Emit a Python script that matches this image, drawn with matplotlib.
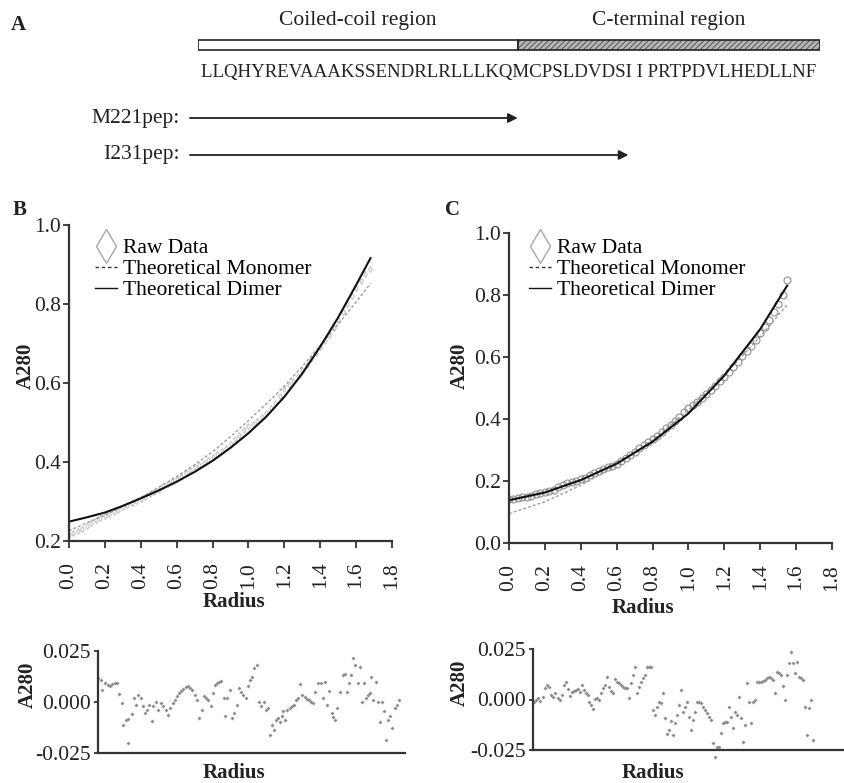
import numpy as np
import matplotlib
matplotlib.use('Agg')
import matplotlib.pyplot as plt
from matplotlib.lines import Line2D
from matplotlib.patches import Rectangle

plt.rcParams['font.family'] = ['Liberation Serif', 'DejaVu Serif']
plt.rcParams['hatch.linewidth'] = 0.7

W, H = 844, 783
INK = '#222222'

# ---------------- panel A: peptide map (residue positions) ----------------
sequence = 'LLQHYREVAAAKSSENDRLRLLLKQMCPSLDVDSI I PRTPDVLHEDLLNF'
region_names = ['Coiled-coil region', 'C-terminal region']
region_bounds = [0, 25.7, 50]
peptide_names = ['M221pep:', 'I231pep:']
peptide_ends = [25.7, 34.6]

# ---------------- panel B: sedimentation, M221pep ----------------
fit_r_b = [0.0, 0.1, 0.2, 0.3, 0.4, 0.5, 0.6, 0.7, 0.8, 0.9, 1.0, 1.1, 1.2, 1.3, 1.4, 1.5, 1.6, 1.68]
dimer_b = [0.249, 0.260, 0.272, 0.289, 0.308, 0.328, 0.350, 0.375, 0.403, 0.436, 0.473, 0.515,
           0.565, 0.624, 0.692, 0.766, 0.848, 0.916]
monomer_b = [0.226, 0.246, 0.266, 0.287, 0.310, 0.336, 0.363, 0.393, 0.426, 0.464, 0.505, 0.547,
             0.592, 0.642, 0.695, 0.749, 0.805, 0.852]

raw_r_b = [0.000, 0.025, 0.050, 0.075, 0.100, 0.125, 0.150, 0.175, 0.200, 0.225, 0.250, 0.275,
           0.300, 0.325, 0.350, 0.375, 0.400, 0.425, 0.450, 0.475, 0.500, 0.525, 0.550, 0.575,
           0.600, 0.625, 0.650, 0.675, 0.700, 0.725, 0.750, 0.775, 0.800, 0.825, 0.850, 0.875,
           0.900, 0.925, 0.950, 0.975, 1.000, 1.025, 1.050, 1.075, 1.100, 1.125, 1.150, 1.175,
           1.200, 1.225, 1.250, 1.275, 1.300, 1.325, 1.350, 1.375, 1.400, 1.425, 1.450, 1.475,
           1.500, 1.525, 1.550, 1.575, 1.600, 1.625, 1.650, 1.675]
raw_b = [0.215, 0.220, 0.226, 0.231, 0.238, 0.246, 0.252, 0.258, 0.263, 0.268, 0.274, 0.279,
         0.285, 0.291, 0.297, 0.302, 0.307, 0.312, 0.318, 0.323, 0.330, 0.338, 0.345, 0.351,
         0.358, 0.365, 0.372, 0.381, 0.388, 0.392, 0.398, 0.406, 0.413, 0.420, 0.428, 0.436,
         0.445, 0.457, 0.468, 0.480, 0.490, 0.497, 0.505, 0.514, 0.525, 0.537, 0.550, 0.567,
         0.585, 0.594, 0.605, 0.618, 0.632, 0.646, 0.660, 0.675, 0.690, 0.706, 0.722, 0.740,
         0.760, 0.780, 0.800, 0.820, 0.840, 0.858, 0.875, 0.888]

res_r_b = [0.000, 0.017, 0.024, 0.039, 0.053, 0.066, 0.079, 0.094, 0.105, 0.116,
           0.131, 0.140, 0.153, 0.168, 0.164, 0.186, 0.201, 0.212, 0.223, 0.236,
           0.247, 0.260, 0.269, 0.282, 0.297, 0.306, 0.319, 0.334, 0.349, 0.361,
           0.374, 0.389, 0.400, 0.413, 0.426, 0.437, 0.448, 0.459, 0.472, 0.485,
           0.496, 0.509, 0.522, 0.537, 0.548, 0.561, 0.574, 0.585, 0.599, 0.610,
           0.625, 0.636, 0.647, 0.658, 0.669, 0.680, 0.695, 0.706, 0.717, 0.730,
           0.743, 0.754, 0.767, 0.780, 0.791, 0.804, 0.817, 0.832, 0.843, 0.854,
           0.865, 0.880, 0.894, 0.905, 0.920, 0.931, 0.942, 0.953, 0.964, 0.975,
           0.987, 0.998, 1.009, 1.020, 1.027, 1.038, 1.049, 1.064, 1.075, 1.086,
           1.097, 1.108, 1.119, 1.130, 1.145, 1.156, 1.167, 1.178, 1.189, 1.204,
           1.219, 1.234, 1.245, 1.256, 1.267, 1.278, 1.293, 1.304, 1.315, 1.326,
           1.341, 1.355, 1.366, 1.377, 1.389, 1.403, 1.414, 1.425, 1.440, 1.451,
           1.462, 1.473, 1.484, 1.495, 1.507, 1.514, 1.525, 1.542, 1.551, 1.562,
           1.573, 1.584, 1.595, 1.606, 1.617, 1.628, 1.643, 1.654, 1.665]
# residuals in units of 0.001
res_b = [11.6, 10.8, 5.9, 9.5, 8.4, 7.6, 8.7, 9.2, 9.5, 4.0,
         -0.6, -11.2, -8.7, -8.3, -20.2, -5.8, 1.9, -1.4, 3.5, 1.9,
         -2.2, -5.5, -3.9, -1.4, -9.1, -2.2, 0.2, -3.9, -0.6, -2.2,
         -3.9, -6.3, -3.0, -0.6, 1.0, 2.7, 4.3, 5.4, 6.4, 7.2,
         7.6, 6.7, 5.9, 3.5, 1.0, -7.6, -3.9, 2.7, 1.9, 1.0,
         -2.2, 4.3, 8.4, 9.2, 10.0, 10.5, 1.9, -6.8, 1.9, 5.9,
         -7.9, -5.5, -1.4, 6.7, 5.1, 3.5, 1.9, 7.6, 10.8, 12.4,
         16.5, 18.2, 0.2, -2.2, 0.2, -3.9, -3.0, -16.1, -11.2, -13.6,
         -8.7, -7.9, -9.6, -7.1, -4.2, -8.7, -3.9, -3.0, -2.2, -1.4,
         1.0, 1.9, 8.7, 3.5, 2.3, 1.5, 1.0, 0.2, -0.6, 5.1,
         9.2, 9.2, 1.9, 10.0, -1.4, 5.6, -5.2, -7.4, -8.7, -3.0,
         5.1, 13.3, 13.6, 5.1, 9.2, 13.3, 21.4, 18.2, 9.2, 17.0,
         0.2, 9.2, 1.9, 3.5, 4.3, 12.4, 1.0, 10.0, 0.2, -9.6,
         0.2, -4.2, -18.5, -8.7, -7.1, -12.8, -3.0, -1.4, 1.0]

# ---------------- panel C: sedimentation, I231pep ----------------
fit_r_c = [0.0, 0.2, 0.4, 0.6, 0.8, 1.0, 1.2, 1.4, 1.55]
dimer_c = [0.138, 0.163, 0.203, 0.256, 0.327, 0.418, 0.540, 0.690, 0.830]
monomer_c = [0.095, 0.133, 0.186, 0.251, 0.332, 0.429, 0.542, 0.666, 0.768]

raw_r_c = [0.000, 0.025, 0.050, 0.075, 0.100, 0.125, 0.150, 0.175, 0.200, 0.225, 0.250, 0.275,
           0.300, 0.325, 0.350, 0.375, 0.400, 0.425, 0.450, 0.475, 0.500, 0.525, 0.550, 0.575,
           0.600, 0.625, 0.650, 0.675, 0.700, 0.725, 0.750, 0.775, 0.800, 0.825, 0.850, 0.875,
           0.900, 0.925, 0.950, 0.975, 1.000, 1.025, 1.050, 1.075, 1.100, 1.125, 1.150, 1.175,
           1.200, 1.225, 1.250, 1.275, 1.300, 1.325, 1.350, 1.375, 1.400, 1.425, 1.450, 1.475,
           1.500, 1.525, 1.550]
raw_c = [0.142, 0.143, 0.145, 0.148, 0.150, 0.153, 0.158, 0.162, 0.165, 0.168, 0.172, 0.180,
         0.188, 0.193, 0.196, 0.200, 0.205, 0.211, 0.218, 0.225, 0.232, 0.239, 0.245, 0.250,
         0.255, 0.264, 0.275, 0.285, 0.295, 0.305, 0.315, 0.325, 0.335, 0.346, 0.358, 0.370,
         0.382, 0.395, 0.408, 0.422, 0.435, 0.445, 0.455, 0.467, 0.480, 0.494, 0.508, 0.521,
         0.535, 0.551, 0.568, 0.585, 0.602, 0.618, 0.635, 0.656, 0.678, 0.698, 0.718, 0.745,
         0.772, 0.800, 0.848]

res_r_c = [0.006, 0.017, 0.029, 0.039, 0.053, 0.065, 0.076, 0.087, 0.101, 0.112,
           0.123, 0.138, 0.149, 0.160, 0.171, 0.182, 0.194, 0.205, 0.216, 0.227,
           0.238, 0.249, 0.260, 0.271, 0.282, 0.293, 0.304, 0.311, 0.323, 0.330,
           0.341, 0.352, 0.363, 0.374, 0.385, 0.396, 0.407, 0.418, 0.429, 0.440,
           0.452, 0.463, 0.474, 0.485, 0.496, 0.507, 0.518, 0.529, 0.540, 0.551,
           0.562, 0.573, 0.584, 0.595, 0.606, 0.617, 0.628, 0.640, 0.651, 0.665,
           0.676, 0.687, 0.698, 0.710, 0.721, 0.732, 0.743, 0.754, 0.765, 0.776,
           0.787, 0.798, 0.809, 0.820, 0.831, 0.842, 0.853, 0.864, 0.875, 0.886,
           0.898, 0.909, 0.920, 0.931, 0.942, 0.953, 0.964, 0.975, 0.986, 0.997,
           1.008, 1.016, 1.027, 1.038, 1.049, 1.060, 1.071, 1.082, 1.093, 1.104,
           1.115, 1.126, 1.137, 1.148, 1.159, 1.170, 1.181, 1.192, 1.203, 1.215,
           1.226, 1.237, 1.248, 1.259, 1.270, 1.281, 1.292, 1.303, 1.314, 1.325,
           1.336, 1.347, 1.358, 1.369, 1.380, 1.391, 1.403, 1.414, 1.425, 1.436,
           1.447, 1.458, 1.469, 1.480, 1.491, 1.502, 1.513, 1.524, 1.535, 1.550]
res_c = [-1.1, -0.2, 0.6, -0.7, 1.4, 5.5, 7.2, 6.4, 2.2, 1.4,
         3.1, 0.6, -0.2, 2.2, 7.2, 8.8, 5.0, 1.7, 3.9, 4.2,
         4.7, 5.2, 3.9, 7.2, 4.7, 3.1, 2.2, -1.1, -2.7, -4.9,
         0.1, 0.6, -0.2, 3.1, 5.5, 7.2, 11.3, 6.4, 4.4, 3.1,
         10.0, 8.8, 8.0, 7.2, 6.4, 5.9, 5.5, 0.6, 8.0, 12.1,
         16.3, 3.1, 6.4, 8.8, 10.5, 12.1, 16.3, 16.3, 16.3, -5.2,
         -7.7, -3.5, -1.1, -1.9, 3.1, -9.3, -17.1, -15.1, -10.6, -17.6,
         -11.8, -7.7, -2.7, 4.7, -6.0, -3.5, -1.1, -8.5, -15.1, -10.1,
         -6.0, -1.1, -1.1, -1.9, -3.5, -5.2, -6.8, -8.5, -10.1, -21.7,
         -28.3, -23.3, -23.3, -16.7, -11.8, -11.0, -11.0, -3.5, -8.5, -14.3,
         -6.0, -7.7, 1.4, -9.3, -20.9, -12.6, 8.0, -1.1, -11.8, -1.1,
         -0.2, 8.8, 8.8, 8.8, 9.3, 9.7, 10.5, 11.3, 10.5, 9.7,
         3.4, 13.8, 13.0, 12.1, 6.7, -0.2, 12.1, 17.9, 23.7, 18.2,
         13.0, 18.7, 11.3, 10.5, 9.7, -3.5, -17.6, -4.4, -0.2, -20.0]

main_xticks = [0.0, 0.2, 0.4, 0.6, 0.8, 1.0, 1.2, 1.4, 1.6, 1.8]
res_yticks = [-0.025, 0.0, 0.025]

TICK_FS = 15.5


def px_axes(fig, left, top, right, bottom):
    # place an axes by its pixel box in the 844x783 canvas
    return fig.add_axes([left / W, 1 - bottom / H, (right - left) / W, (bottom - top) / H])


def style_axes(ax):
    for s in ['top', 'right']:
        ax.spines[s].set_visible(False)
    for s in ['left', 'bottom']:
        ax.spines[s].set_linewidth(1.6)
        ax.spines[s].set_color('#333333')
    ax.tick_params(labelsize=TICK_FS, colors=INK, width=1.2, length=4, direction='out')


def main_panel(fig, box, raw_r, raw, fit_r, monomer, dimer, ylim, yticks, raw_style, legend_at):
    ax = px_axes(fig, *box)
    ax.plot(raw_r, raw, linestyle='none', **raw_style)
    ax.plot(fit_r, monomer, color='#9a9a9a', lw=1.0, dashes=(2.0, 1.6))
    ax.plot(fit_r, dimer, color='#111111', lw=1.5)
    ax.set_xlim(0, 1.8)
    ax.set_ylim(*ylim)
    ax.set_xticks(main_xticks)
    ax.set_xticklabels(['%.1f' % t for t in main_xticks], rotation=90)
    ax.set_yticks(yticks)
    ax.set_yticklabels(['%.1f' % t for t in yticks])
    style_axes(ax)
    ax.tick_params(axis='x', pad=10, length=5)
    ax.tick_params(axis='y', pad=2)
    handles = [Line2D([], [], linestyle='none', marker='d', ms=17, mfc='none', mec='#a8a8a8', mew=1.0),
               Line2D([], [], color='#333333', lw=1.0, dashes=(2.5, 2.0)),
               Line2D([], [], color='#111111', lw=1.0)]
    ax.legend(handles, ['Raw Data', 'Theoretical Monomer', 'Theoretical Dimer'],
              loc='upper left', bbox_to_anchor=(legend_at[0] / W, 1 - legend_at[1] / H),
              bbox_transform=fig.transFigure, frameon=False, fontsize=TICK_FS,
              handlelength=1.0, handletextpad=0.3, labelspacing=0.05, borderpad=0, borderaxespad=0)
    return ax


def residual_panel(fig, box, res_r, res, xmax):
    ax = px_axes(fig, *box)
    ax.plot(res_r, np.array(res) / 1000.0, linestyle='none', marker='D', ms=2.0,
            color='#8c8c8c', mec='none', clip_on=False)
    ax.set_xlim(0, xmax)
    ax.set_ylim(-0.025, 0.025)
    ax.set_xticks([])
    ax.set_yticks(res_yticks)
    ax.set_yticklabels(['%.3f' % t for t in res_yticks])
    style_axes(ax)
    ax.tick_params(axis='y', pad=2, length=3)
    return ax


fig = plt.figure(figsize=(W / 100, H / 100), dpi=100)

# ---- panel A ----
axA = px_axes(fig, 198, 0, 820, 170)
axA.set_xlim(0, 50)
axA.set_ylim(170, 0)
axA.axis('off')
bar_top, bar_h = 40, 10
axA.add_patch(Rectangle((region_bounds[0], bar_top), region_bounds[1] - region_bounds[0], bar_h,
                        facecolor='white', edgecolor='#222222', lw=1.2))
axA.add_patch(Rectangle((region_bounds[1], bar_top), region_bounds[2] - region_bounds[1], bar_h,
                        facecolor='#b5b5b5', edgecolor='#555555', hatch='//////', lw=0))
axA.add_patch(Rectangle((region_bounds[1], bar_top), region_bounds[2] - region_bounds[1], bar_h,
                        facecolor='none', edgecolor='#222222', lw=1.2))
for name, a, b in zip(region_names, region_bounds[:-1], region_bounds[1:]):
    axA.text((a + b) / 2, 20, name, ha='center', va='center', fontsize=TICK_FS, color=INK)
axA.text(25, 72, sequence, ha='center', va='center', fontsize=13.6, color=INK)
for name, end, y in zip(peptide_names, peptide_ends, [118, 155]):
    axA.text(-1.45, y, name, ha='right', va='center', fontsize=TICK_FS, color=INK)
    axA.annotate('', xy=(end, y), xytext=(-0.65, y),
                 arrowprops=dict(arrowstyle='-|>', lw=1.3, color='#222222',
                                 mutation_scale=14, shrinkA=0, shrinkB=0))

# ---- panel B and C ----
main_panel(fig, (69, 225, 392, 541), raw_r_b, raw_b, fit_r_b, monomer_b, dimer_b,
           (0.2, 1.0), [0.2, 0.4, 0.6, 0.8, 1.0],
           dict(marker='d', ms=3, mfc='none', mec='#bdbdbd', mew=0.7), (95, 238))
main_panel(fig, (509, 233, 832, 543), raw_r_c, raw_c, fit_r_c, monomer_c, dimer_c,
           (0.0, 1.0), [0.0, 0.2, 0.4, 0.6, 0.8, 1.0],
           dict(marker='o', ms=5, mfc='none', mec='#8f8f8f', mew=0.8), (529, 238))

residual_panel(fig, (98, 651, 405, 753), res_r_b, res_b, 1.70)
residual_panel(fig, (533, 649, 844, 750), res_r_c, res_c, 1.72)

# axis titles and panel letters
bold = dict(fontsize=15, fontweight='bold', color=INK, ha='center', va='center')
for x, y in [(234, 602), (643, 608), (234, 773), (653, 773)]:
    fig.text(x / W, 1 - y / H, 'Radius', **bold)
for x, y in [(26, 366), (460, 366), (28, 685), (460, 683)]:
    fig.text(x / W, 1 - y / H, 'A280', rotation=90, **bold)
for x, y, s in [(18, 25, 'A'), (20, 210, 'B'), (453, 210, 'C')]:
    fig.text(x / W, 1 - y / H, s, **bold)

fig.savefig('out.png', dpi=100, facecolor='white')
